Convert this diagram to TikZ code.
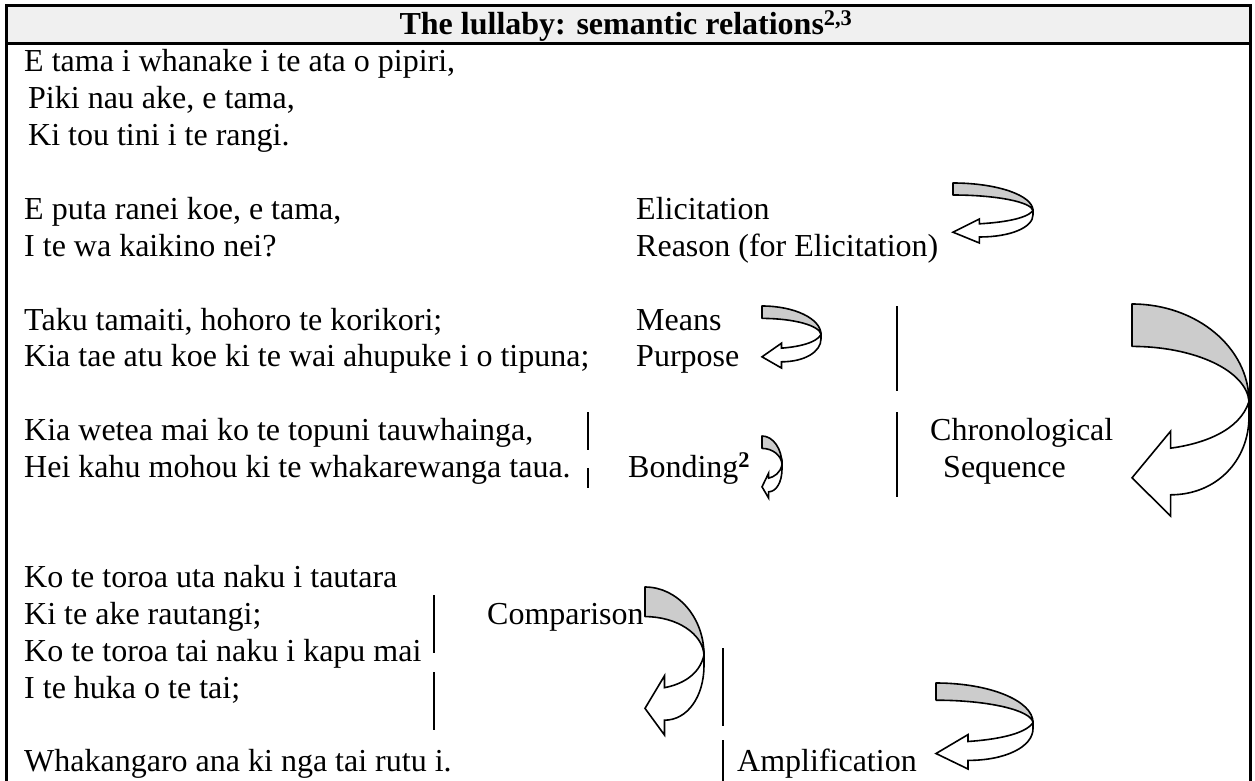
\documentclass[tikz,border=0pt]{standalone}
\usepackage{fontspec}
\setmainfont{Liberation Serif}
\definecolor{hdr}{RGB}{240,240,240}
\definecolor{bandgray}{RGB}{204,204,204}
\tikzset{
  txt/.style={anchor=base west, inner sep=0pt, font=\fontsize{32}{36.8}\selectfont},
  frameline/.style={line width=3pt},
  sepbar/.style={line width=2pt},
  backband/.style={fill=bandgray, draw=black, line width=1.6pt, line join=round},
  frontbody/.style={fill=white, draw=black, line width=1.6pt, line join=miter},
}
\newcommand\UTurn[4]{%
  \begin{scope}[shift={(#1,#2)},xscale=#3,yscale=#4]
    \path[backband] (0,0) .. controls (0.552,0) and (1,0.206) .. (1,0.46)
      .. controls (0.98,0.316) and (0.54,0.2) .. (0,0.2) -- cycle;
    \path[frontbody] (1,0.46) -- (1,0.53) .. controls (1,0.74) and (0.72,0.9) .. (0.33,0.9)
      -- (0.33,1) -- (0,0.82) -- (0.33,0.6) -- (0.33,0.68)
      .. controls (0.6,0.66) and (0.92,0.6) .. (1,0.46) -- cycle;
  \end{scope}}
\begin{document}
\begin{tikzpicture}[x=1pt,y=-1pt]
\useasboundingbox (0,0) rectangle (1255,781);
% frame
\fill[hdr] (6,6) rectangle (1250,44);
\draw[frameline] (6,781) -- (6,6) -- (1250,6) -- (1250,781);
\draw[frameline] (6,44) -- (1250,44);
\node[anchor=base, inner sep=0pt, font=\bfseries\fontsize{32}{36.8}\selectfont] (title) at (626,35) {The lullaby: semantic relations\textsuperscript{2,3}};
% verse
\node[txt] (v1) at (24,72) {E tama i whanake i te ata o pipiri,};
\node[txt] (v2) at (28,109) {Piki nau ake, e tama,};
\node[txt] (v3) at (28,146) {Ki tou tini i te rangi.};
\node[txt] (v4) at (24,219) {E puta ranei koe, e tama,};
\node[txt] (v5) at (24,256) {I te wa kaikino nei?};
\node[txt] (v6) at (24,330) {Taku tamaiti, hohoro te korikori;};
\node[txt] (v7) at (24,366) {Kia tae atu koe ki te wai ahupuke i o tipuna;};
\node[txt] (v8) at (24,440) {Kia wetea mai ko te topuni tauwhainga,};
\node[txt] (v9) at (24,477) {Hei kahu mohou ki te whakarewanga taua.};
\node[txt] (v10) at (24,587) {Ko te toroa uta naku i tautara};
\node[txt] (v11) at (24,624) {Ki te ake rautangi;};
\node[txt] (v12) at (24,661) {Ko te toroa tai naku i kapu mai};
\node[txt] (v13) at (24,698) {I te huka o te tai;};
\node[txt] (v14) at (24,771) {Whakangaro ana ki nga tai rutu i.};
% relation labels
\node[txt] (elic) at (636,219) {Elicitation};
\node[txt] (reas) at (636,256) {Reason (for Elicitation)};
\node[txt] (mean) at (636,330) {Means};
\node[txt] (purp) at (636,366) {Purpose};
\node[txt] (bond) at (628,477) {Bonding\textsuperscript{\bfseries 2}};
\node[txt] (chro) at (930,440) {Chronological};
\node[txt] (sequ) at (943,477) {Sequence};
\node[txt] (comp) at (487,624) {Comparison};
\node[txt] (ampl) at (737,771) {Amplification};
% bars
\draw[sepbar] (588,412) -- (588,450);
\draw[sepbar] (588,468) -- (588,488);
\draw[sepbar] (897,306) -- (897,391);
\draw[sepbar] (897,412) -- (897,497);
\draw[sepbar] (434,595) -- (434,653);
\draw[sepbar] (434,672) -- (434,730);
\draw[sepbar] (723,648) -- (723,726);
\draw[sepbar] (723,740) -- (723,781);
% curved arrows
\UTurn{953}{183}{80}{60}
\UTurn{762}{306}{59}{62}
\UTurn{762}{436}{20}{62}
\UTurn{1132}{304}{117}{212}
\UTurn{645}{587}{59}{148}
\UTurn{936}{683}{97}{86}
\end{tikzpicture}
\end{document}
